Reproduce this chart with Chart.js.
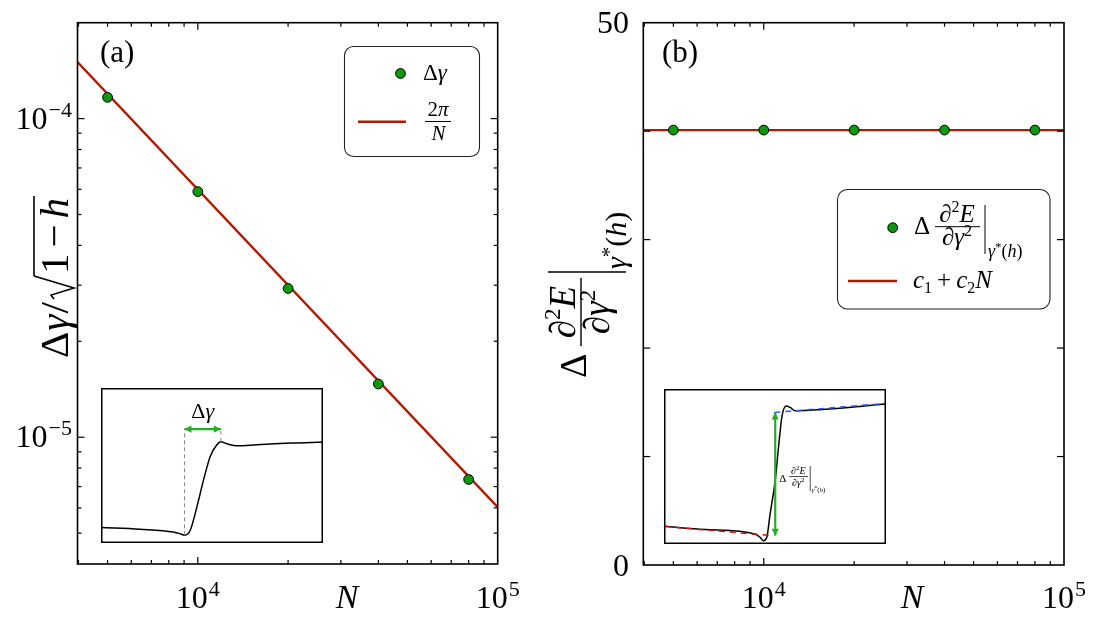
<!DOCTYPE html>
<html><head><meta charset="utf-8">
<script src="https://cdn.jsdelivr.net/npm/chart.js@4.4.0/dist/chart.umd.min.js"></script>
<style>
html,body{margin:0;padding:0;background:#fff;}
#wrap{position:relative;width:1095px;height:621px;overflow:hidden;background:#fff;}
canvas{position:absolute;}
</style></head><body>
<div id="wrap">
<canvas id="ca" width="540" height="621" style="left:0;top:0;width:540px;height:621px"></canvas>
<canvas id="cb" width="555" height="621" style="left:540px;top:0;width:555px;height:621px"></canvas>
<canvas id="ia" width="222" height="155" style="left:101px;top:388px;width:222px;height:155px"></canvas>
<canvas id="ib" width="222" height="155" style="left:664px;top:389px;width:222px;height:155px"></canvas>
</div>
<script>
// ---------------- data ----------------
const seriesN   = [5000, 10000, 20000, 40000, 80000];
const gapA      = [1.166e-4, 5.90e-5, 2.93e-5, 1.469e-5, 7.37e-6];
const fitN_A    = [3970, 100000];
const fitA      = [1.505e-4, 6.03e-6];
const curvB     = [40.1, 40.1, 40.1, 40.1, 40.1];
const fitN_B    = [3970, 100000];
const fitB      = [40.1, 40.1];

const xMajorTicks  = [1e4, 1e5];
const xMajorLabels = [['10','4'], ['10','5']];
const xMinorTicks  = [4000,5000,6000,7000,8000,9000,20000,30000,40000,50000,60000,70000,80000,90000];
const yMajorTicksA = [1e-5, 1e-4];
const yMajorLabelsA= [['10','\u22125'], ['10','\u22124']];
const yMinorTicksA = [5e-6,6e-6,7e-6,8e-6,9e-6,2e-5,3e-5,4e-5,5e-5,6e-5,7e-5,8e-5,9e-5];
const yTicksB      = [0, 10, 20, 30, 40, 50];
const yTickLabelsB = ['0', '', '', '', '', '50'];

// inset (a): normalised curve
const insetA_u = [0, 0.176, 0.326, 0.360, 0.376, 0.402, 0.432, 0.462, 0.492, 0.522, 0.540, 0.567, 0.613, 0.703, 0.853, 1.0];
const insetA_v = [0.100, 0.089, 0.071, 0.058, 0.050, 0.082, 0.233, 0.407, 0.558, 0.634, 0.653, 0.640, 0.627, 0.634, 0.645, 0.651];
const insetA_dash1_u = [0.376, 0.376], insetA_dash1_v = [0.05, 0.735];
const insetA_dash2_u = [0.540, 0.540], insetA_dash2_v = [0.653, 0.735];
const insetA_arrow_u = [0.376, 0.540], insetA_arrow_v = [0.735, 0.735];

// inset (b): normalised curve
const insetB_u = [0, 0.185, 0.410, 0.433, 0.448, 0.463, 0.478, 0.501, 0.516, 0.531, 0.550, 0.568, 0.591, 0.711, 1.0];
const insetB_v = [0.114, 0.093, 0.065, 0.043, 0.021, 0.043, 0.194, 0.410, 0.626, 0.820, 0.890, 0.881, 0.859, 0.868, 0.903];
const insetB_red_u  = [0, 0.486],   insetB_red_v  = [0.114, 0.054];
const insetB_blue_u = [0.497, 1.0], insetB_blue_v = [0.849, 0.907];
const insetB_arrow_u = [0.501, 0.501], insetB_arrow_v = [0.054, 0.849];

// ---------------- style ----------------
const RED = '#b21a00', GREEN = '#0c9a0c', ARROW = '#22b022', BLUE = '#2a5cff';
const SERIF = '"Liberation Serif","DejaVu Serif","Times New Roman",serif';
function font(s, it){ return (it ? 'italic ' : '') + s + 'px ' + SERIF; }
function seqW(ctx, parts){ let w = 0; for (const p of parts){ ctx.font = font(p[1], p[2]); w += ctx.measureText(p[0]).width + (p[4]||0); } return w; }
function seq(ctx, x, y, parts){
  ctx.textAlign = 'left'; ctx.textBaseline = 'alphabetic';
  let cx = x;
  for (const p of parts){ ctx.font = font(p[1], p[2]); ctx.fillText(p[0], cx, y - (p[3]||0)); cx += ctx.measureText(p[0]).width + (p[4]||0); }
  return cx;
}
function seqC(ctx, cx, y, parts){ return seq(ctx, cx - seqW(ctx, parts)/2, y, parts); }
function hline(ctx, x1, x2, y, lw){ ctx.beginPath(); ctx.lineWidth = lw; ctx.moveTo(x1, y); ctx.lineTo(x2, y); ctx.stroke(); }
function vline(ctx, x, y1, y2, lw){ ctx.beginPath(); ctx.lineWidth = lw; ctx.moveTo(x, y1); ctx.lineTo(x, y2); ctx.stroke(); }
function pow(ctx, x, y, base, exp, align){
  const F = 32, f = 22;
  ctx.font = font(F); const wb = ctx.measureText(base).width;
  ctx.font = font(f); const we = ctx.measureText(exp).width;
  const w = wb + we + 1;
  const x0 = align === 'center' ? x - w/2 : (align === 'right' ? x - w : x);
  ctx.fillStyle = '#000'; ctx.textAlign = 'left'; ctx.textBaseline = 'alphabetic';
  ctx.font = font(F); ctx.fillText(base, x0, y);
  ctx.font = font(f); ctx.fillText(exp, x0 + wb + 1, y - 12);
}
function roundRect(ctx, x, y, w, h, r){
  ctx.beginPath(); ctx.moveTo(x + r, y); ctx.lineTo(x + w - r, y); ctx.arcTo(x + w, y, x + w, y + r, r);
  ctx.lineTo(x + w, y + h - r); ctx.arcTo(x + w, y + h, x + w - r, y + h, r);
  ctx.lineTo(x + r, y + h); ctx.arcTo(x, y + h, x, y + h - r, r);
  ctx.lineTo(x, y + r); ctx.arcTo(x, y, x + r, y, r); ctx.closePath();
}
function marker(ctx, x, y){ ctx.beginPath(); ctx.arc(x, y, 4.9, 0, Math.PI*2); ctx.fillStyle = GREEN; ctx.fill(); ctx.lineWidth = 1; ctx.strokeStyle = '#000'; ctx.stroke(); }
function head(ctx, x, y, dx, dy, color){
  const L = 7, H = 3.6;
  const px = -dy, py = dx;
  ctx.beginPath(); ctx.moveTo(x, y);
  ctx.lineTo(x - dx*L + px*H, y - dy*L + py*H);
  ctx.lineTo(x - dx*L - px*H, y - dy*L - py*H);
  ctx.closePath(); ctx.fillStyle = color; ctx.fill();
}

function drawTicks(ctx, chart, xs, ys, xMaj, xMin, yMaj, yMin){
  const a = chart.chartArea;
  ctx.strokeStyle = '#000';
  const doX = (vals, len) => vals.forEach(v => { const p = xs.getPixelForValue(v); if (p <= a.left + 0.5 || p >= a.right - 0.5) return; vline(ctx, p, a.bottom, a.bottom - len, 1.2); vline(ctx, p, a.top, a.top + len, 1.2); });
  const doY = (vals, len) => vals.forEach(v => { const p = ys.getPixelForValue(v); if (p <= a.top + 0.5 || p >= a.bottom - 0.5) return; hline(ctx, a.left, a.left + len, p, 1.2); hline(ctx, a.right, a.right - len, p, 1.2); });
  doX(xMaj, 7); doX(xMin, 4); doY(yMaj, 7); doY(yMin, 4);
  ctx.lineWidth = 1.6; ctx.strokeRect(a.left, a.top, a.right - a.left, a.bottom - a.top);
}

// ---------------- chart (a) ----------------
const plugA = { id: 'decorA', afterDraw(chart){
  const ctx = chart.ctx, xs = chart.scales.x, ys = chart.scales.y;
  ctx.save();
  drawTicks(ctx, chart, xs, ys, xMajorTicks, xMinorTicks, yMajorTicksA, yMinorTicksA);
  ctx.fillStyle = '#000';
  xMajorTicks.forEach((v, i) => pow(ctx, xs.getPixelForValue(v), 608, xMajorLabels[i][0], xMajorLabels[i][1], 'center'));
  yMajorTicksA.forEach((v, i) => pow(ctx, 72, ys.getPixelForValue(v) + 10, yMajorLabelsA[i][0], yMajorLabelsA[i][1], 'right'));
  ctx.fillStyle = '#000'; seqC(ctx, 347, 608, [['N', 34, true]]);
  seq(ctx, 100, 62, [['(a)', 31, false]]);
  // y title (rotated)
  ctx.save(); ctx.translate(68, 358); ctx.rotate(-Math.PI/2);
  let u = seq(ctx, 0, 0, [['\u0394', 41, false, 0, 1], ['\u03b3', 41, true, 0, 1], ['/', 41, false, 0, 2]]);
  const r0 = u;
  ctx.strokeStyle = '#000'; ctx.lineWidth = 1.6; ctx.lineJoin = 'miter';
  ctx.beginPath(); ctx.moveTo(r0 + 1, -14); ctx.lineTo(r0 + 5, -17); ctx.lineTo(r0 + 12, 6); ctx.lineTo(r0 + 24, -34); ctx.stroke();
  u = seq(ctx, r0 + 26, 0, [['1', 41, false, 0, 6], ['\u2212', 41, false, 0, 6], ['h', 41, true]]);
  hline(ctx, r0 + 24, u + 2, -34, 1.6);
  ctx.restore();
  // legend
  ctx.strokeStyle = '#222'; ctx.lineWidth = 1.1;
  roundRect(ctx, 344.5, 46.5, 135, 110, 9); ctx.fillStyle = '#fff'; ctx.fill(); ctx.stroke();
  marker(ctx, 400.5, 73.5);
  ctx.fillStyle = '#000'; seq(ctx, 423, 80, [['\u0394', 23, false], ['\u03b3', 23, true]]);
  ctx.strokeStyle = RED; hline(ctx, 358, 406, 121.7, 2.5);
  ctx.fillStyle = '#000'; ctx.strokeStyle = '#000';
  seqC(ctx, 438, 116, [['2', 21, false], ['\u03c0', 21, true]]);
  hline(ctx, 425, 451, 121.5, 1);
  seqC(ctx, 438.5, 140, [['N', 21, true]]);
  ctx.restore();
}};

new Chart(document.getElementById('ca'), {
  type: 'scatter',
  data: { datasets: [
    { data: seriesN.map((n, i) => ({x: n, y: gapA[i]})), showLine: false, pointRadius: 4.9, pointBackgroundColor: GREEN, pointBorderColor: '#000', pointBorderWidth: 1, order: 0 },
    { data: fitN_A.map((n, i) => ({x: n, y: fitA[i]})), showLine: true, pointRadius: 0, borderColor: RED, borderWidth: 2.4, order: 1 }
  ]},
  options: {
    responsive: false, animation: false, devicePixelRatio: 1,
    layout: { padding: { left: 0, top: 22.7, right: 42.3, bottom: 0 } },
    plugins: { legend: { display: false }, tooltip: { enabled: false } },
    scales: {
      x: { type: 'logarithmic', min: 3970, max: 1e5, grid: { display: false }, border: { display: false }, ticks: { display: false }, afterFit: s => { s.height = 57; } },
      y: { type: 'logarithmic', min: 4e-6, max: 2e-4, grid: { display: false }, border: { display: false }, ticks: { display: false }, afterFit: s => { s.width = 77.5; } }
    }
  },
  plugins: [plugA]
});

// ---------------- chart (b) ----------------
const plugB = { id: 'decorB', afterDraw(chart){
  const ctx = chart.ctx, xs = chart.scales.x, ys = chart.scales.y;
  ctx.save();
  drawTicks(ctx, chart, xs, ys, xMajorTicks, xMinorTicks, yTicksB, []);
  ctx.fillStyle = '#000';
  xMajorTicks.forEach((v, i) => pow(ctx, xs.getPixelForValue(v), 608, xMajorLabels[i][0], xMajorLabels[i][1], 'center'));
  yTicksB.forEach((v, i) => { if (!yTickLabelsB[i]) return; ctx.font = font(32); ctx.textAlign = 'right'; ctx.textBaseline = 'alphabetic'; ctx.fillText(yTickLabelsB[i], 629 - 540, ys.getPixelForValue(v) + 10.5); });
  ctx.translate(-540, 0);
  ctx.fillStyle = '#000';
  seqC(ctx, 912, 608, [['N', 34, true]]);
  seq(ctx, 662, 62, [['(b)', 31, false]]);
  // y title rotated
  ctx.save(); ctx.translate(581, 300); ctx.rotate(-Math.PI/2);
  ctx.strokeStyle = '#000';
  seq(ctx, -78, 5, [['\u0394', 38, false]]);
  seqC(ctx, -12, -6, [['\u2202', 37, true], ['2', 23, false, 15], ['E', 37, true]]);
  hline(ctx, -46, 22, 0, 1.4);
  seqC(ctx, -12, 28, [['\u2202', 37, true], ['\u03b3', 37, true], ['2', 23, false, 14]]);
  vline(ctx, 28, -33, 45, 1.4);
  seq(ctx, 31, 45, [['\u03b3', 30, true], ['*', 21, false, 10], ['(', 30, false], ['h', 30, true], [')', 30, false]]);
  ctx.restore();
  // legend
  ctx.strokeStyle = '#222'; ctx.lineWidth = 1.1;
  roundRect(ctx, 837.5, 189.5, 212.5, 119.5, 10); ctx.fillStyle = '#fff'; ctx.fill(); ctx.stroke();
  marker(ctx, 892.7, 227.7);
  ctx.fillStyle = '#000'; ctx.strokeStyle = '#000';
  seq(ctx, 914, 234, [['\u0394', 25, false]]);
  seqC(ctx, 957, 222, [['\u2202', 25, true], ['2', 16, false, 10], ['E', 25, true]]);
  hline(ctx, 935, 980, 226.7, 1);
  seqC(ctx, 957, 245, [['\u2202', 25, true], ['\u03b3', 25, true], ['2', 16, false, 9]]);
  vline(ctx, 985, 205, 254, 1);
  seq(ctx, 988, 257, [['\u03b3', 18, true], ['*', 13, false, 6], ['(', 18, false], ['h', 18, true], [')', 18, false]]);
  ctx.strokeStyle = RED; hline(ctx, 848, 897, 281, 2.5);
  ctx.fillStyle = '#000';
  seq(ctx, 913, 288, [['c', 25, true], ['1', 16, false, -5, 5], ['+', 25, false, 0, 5], ['c', 25, true], ['2', 16, false, -5], ['N', 25, true]]);
  ctx.restore();
}};

new Chart(document.getElementById('cb'), {
  type: 'scatter',
  data: { datasets: [
    { data: seriesN.map((n, i) => ({x: n, y: curvB[i]})), showLine: false, pointRadius: 4.9, pointBackgroundColor: GREEN, pointBorderColor: '#000', pointBorderWidth: 1, order: 0 },
    { data: fitN_B.map((n, i) => ({x: n, y: fitB[i]})), showLine: true, pointRadius: 0, borderColor: RED, borderWidth: 2.4, order: 1 }
  ]},
  options: {
    responsive: false, animation: false, devicePixelRatio: 1,
    layout: { padding: { left: 0, top: 22.7, right: 31, bottom: 0 } },
    plugins: { legend: { display: false }, tooltip: { enabled: false } },
    scales: {
      x: { type: 'logarithmic', min: 3970, max: 1e5, grid: { display: false }, border: { display: false }, ticks: { display: false }, afterFit: s => { s.height = 56; } },
      y: { type: 'linear', min: 0, max: 50, grid: { display: false }, border: { display: false }, ticks: { display: false, stepSize: 10 }, afterFit: s => { s.width = 103.3; } }
    }
  },
  plugins: [plugB]
});

// ---------------- insets ----------------
function pts(u, v){ return u.map((x, i) => ({x: x, y: v[i]})); }
const insetScales = { x: { type: 'linear', min: 0, max: 1, display: false }, y: { type: 'linear', min: 0, max: 1, display: false } };
function border(chart){ const c = chart.ctx, w = chart.width, h = chart.height; c.strokeStyle = '#000'; c.lineWidth = 1.5; c.strokeRect(0.75, 0.75, w - 1.5, h - 1.5); }

const plugIA = { id: 'ia', afterDraw(chart){
  const ctx = chart.ctx, xs = chart.scales.x, ys = chart.scales.y;
  ctx.save();
  const x1 = xs.getPixelForValue(insetA_arrow_u[0]), x2 = xs.getPixelForValue(insetA_arrow_u[1]), y = ys.getPixelForValue(insetA_arrow_v[0]);
  head(ctx, x1, y, -1, 0, ARROW); head(ctx, x2, y, 1, 0, ARROW);
  ctx.fillStyle = '#000';
  seqC(ctx, (x1 + x2)/2, y - 11, [['\u0394', 22, false], ['\u03b3', 22, true]]);
  border(chart);
  ctx.restore();
}};
new Chart(document.getElementById('ia'), {
  type: 'scatter',
  data: { datasets: [
    { data: pts(insetA_u, insetA_v), showLine: true, pointRadius: 0, borderColor: '#000', borderWidth: 1.5, cubicInterpolationMode: 'monotone', order: 3 },
    { data: pts(insetA_dash1_u, insetA_dash1_v), showLine: true, pointRadius: 0, borderColor: '#888', borderWidth: 1, borderDash: [4, 3], order: 2 },
    { data: pts(insetA_dash2_u, insetA_dash2_v), showLine: true, pointRadius: 0, borderColor: '#888', borderWidth: 1, borderDash: [4, 3], order: 2 },
    { data: pts(insetA_arrow_u, insetA_arrow_v), showLine: true, pointRadius: 0, borderColor: ARROW, borderWidth: 2.2, order: 1 }
  ]},
  options: { responsive: false, animation: false, devicePixelRatio: 1, layout: { padding: 0 }, plugins: { legend: { display: false }, tooltip: { enabled: false } }, scales: insetScales },
  plugins: [plugIA]
});

const plugIB = { id: 'ib', afterDraw(chart){
  const ctx = chart.ctx, xs = chart.scales.x, ys = chart.scales.y;
  ctx.save();
  const x = xs.getPixelForValue(insetB_arrow_u[0]), y1 = ys.getPixelForValue(insetB_arrow_v[0]), y2 = ys.getPixelForValue(insetB_arrow_v[1]);
  head(ctx, x, y1, 0, 1, ARROW); head(ctx, x, y2, 0, -1, ARROW);
  ctx.fillStyle = '#000'; ctx.strokeStyle = '#000';
  const bx = x + 4, by = (y1 + y2)/2 + 2;
  seq(ctx, bx, by + 6, [['\u0394', 11, false]]);
  seqC(ctx, bx + 19, by - 2, [['\u2202', 10, true], ['2', 7, false, 4], ['E', 10, true]]);
  hline(ctx, bx + 10, bx + 29, by + 0.5, 0.7);
  seqC(ctx, bx + 19, by + 10, [['\u2202', 10, true], ['\u03b3', 10, true], ['2', 7, false, 4]]);
  vline(ctx, bx + 31, by - 10, by + 15, 0.7);
  seq(ctx, bx + 32.5, by + 16, [['\u03b3', 7, true], ['*', 5.5, false, 2.5], ['(', 7, false], ['h', 7, true], [')', 7, false]]);
  border(chart);
  ctx.restore();
}};
new Chart(document.getElementById('ib'), {
  type: 'scatter',
  data: { datasets: [
    { data: pts(insetB_u, insetB_v), showLine: true, pointRadius: 0, borderColor: '#000', borderWidth: 1.5, cubicInterpolationMode: 'monotone', order: 3 },
    { data: pts(insetB_red_u, insetB_red_v), showLine: true, pointRadius: 0, borderColor: '#d01010', borderWidth: 1.5, borderDash: [6, 5], order: 2 },
    { data: pts(insetB_blue_u, insetB_blue_v), showLine: true, pointRadius: 0, borderColor: BLUE, borderWidth: 1.5, borderDash: [6, 5], order: 2 },
    { data: pts(insetB_arrow_u, insetB_arrow_v), showLine: true, pointRadius: 0, borderColor: ARROW, borderWidth: 2.2, order: 1 }
  ]},
  options: { responsive: false, animation: false, devicePixelRatio: 1, layout: { padding: 0 }, plugins: { legend: { display: false }, tooltip: { enabled: false } }, scales: insetScales },
  plugins: [plugIB]
});
</script>
</body></html>
